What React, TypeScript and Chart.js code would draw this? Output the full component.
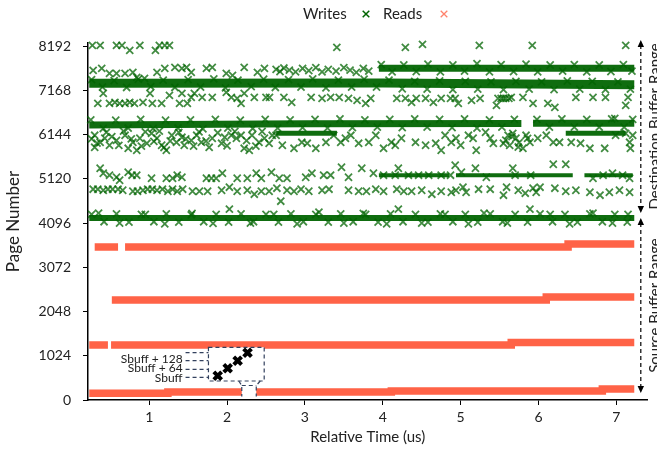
import React, { useEffect, useRef } from 'react';
import { Chart, registerables } from 'chart.js';

Chart.register(...registerables);

const FONT = 'Lato, "Noto Sans", sans-serif';
const TEXT = '#222222';
const RED = 'rgb(255,99,71)';
const GREEN = 'rgb(0,100,0)';
const GREEN_SOFT = 'rgba(0,100,0,0.74)';
const GREEN_BAND = 'rgba(0,100,0,0.94)';

type P = [number, number | null];

const xTickValues = [1, 2, 3, 4, 5, 6, 7];
const yTickValues = [0, 1024, 2048, 3072, 4096, 5120, 6144, 7168, 8192];

// ---- Reads (source buffer) : four continuous bands, x = time(us), y = page
const readsBand3500: P[] = [[0.30, 3544], [0.60, 3544], [0.62, null], [0.69, 3544], [6.38, 3614], [7.23, 3614]];
const readsBand2300: P[] = [[0.52, 2316], [6.10, 2386], [7.23, 2386]];
const readsBand1300: P[] = [[0.23, 1274], [0.47, 1274], [0.49, null], [0.51, 1274], [5.65, 1332], [7.23, 1332]];
const readsBand200: P[] = [[0.23, 155], [1.24, 185], [4.11, 208], [6.82, 255], [7.23, 255]];

// ---- Highlighted consecutive reads (Sbuff, Sbuff+64, Sbuff+128 ...)
const sbuffPoints: P[] = [[1.880, 563], [2.008, 734], [2.136, 910], [2.263, 1096]];

// ---- Writes (destination buffer): dense bands
const writesBand7680: P[] = [[3.95, 7683], [7.23, 7683]];
const writesBand7300: P[] = [[0.23, 7335], [4.0, 7345], [7.23, 7300]];
const writesBand6400: P[] = [[0.23, 6370], [3.0, 6400], [5.78, 6405], [5.79, null], [5.93, 6410], [7.23, 6410]];
const writesBand6180: P[] = [[2.63, 6178], [3.41, 6178], [3.42, null], [6.35, 6178], [7.12, 6178]];
const writesBand5200: P[] = [[3.95, 5207], [4.85, 5207], [4.86, null], [4.94, 5207], [6.44, 5207], [6.45, null], [6.59, 5207], [7.21, 5207]];
const writesBand4200: P[] = [[0.23, 4216], [7.23, 4216]];

// ---- Writes: scattered points
const writesTopRow: P[] = [[0.27, 8215], [0.37, 8215], [0.58, 8215], [0.65, 8215], [0.75, 8099], [0.88, 8215], [1.08, 8099], [1.13, 8215], [1.20, 8215], [1.26, 8215], [3.41, 8168], [4.29, 8168], [4.51, 8238], [5.24, 8215], [5.92, 8215], [7.12, 8215]];
const writesUpper7600: P[] = [[0.28, 7636], [0.39, 7683], [0.49, 7567], [0.58, 7567], [0.69, 7567], [0.79, 7590], [0.84, 7474], [0.94, 7451], [1.10, 7590], [1.20, 7683], [1.33, 7706], [1.42, 7683], [1.48, 7706], [1.54, 7590], [1.735, 7683], [1.81, 7706], [1.99, 7567], [2.07, 7521], [2.22, 7706], [2.39, 7590], [2.48, 7683], [2.63, 7660], [2.68, 7610], [2.73, 7690], [2.80, 7640], [2.88, 7600], [2.97, 7680], [3.05, 7630], [3.14, 7700], [3.22, 7600], [3.30, 7660], [3.40, 7620], [3.50, 7700], [3.58, 7640], [3.66, 7590], [3.75, 7680], [3.82, 7620]];
const writesDense7680: P[] = [[3.98, 7770], [4.12, 7600], [4.27, 7760], [4.43, 7610], [4.58, 7780], [4.74, 7600], [4.90, 7760], [5.05, 7620], [5.21, 7790], [5.37, 7600], [5.52, 7770], [5.68, 7610], [5.84, 7780], [5.99, 7600], [6.15, 7760], [6.31, 7620], [6.46, 7770], [6.62, 7600], [6.78, 7760], [6.93, 7610], [7.09, 7770], [7.20, 7620]];
const writesDense7300: P[] = [[0.26, 7420], [0.40, 7250], [0.55, 7400], [0.71, 7240], [0.86, 7430], [1.02, 7260], [1.18, 7410], [1.33, 7240], [1.50, 7420], [1.66, 7250], [1.83, 7440], [1.98, 7230], [2.14, 7410], [2.31, 7260], [2.47, 7430], [2.62, 7240], [2.79, 7420], [2.95, 7250], [3.10, 7440], [3.27, 7230], [3.43, 7410], [3.60, 7250], [3.76, 7430], [3.92, 7250], [4.08, 7410], [4.25, 7210], [4.41, 7380], [4.57, 7200], [4.73, 7390], [4.90, 7190], [5.06, 7380], [5.22, 7200], [5.39, 7370], [5.55, 7190], [5.71, 7380], [5.88, 7200], [6.04, 7370], [6.20, 7190], [6.37, 7390], [6.53, 7200], [6.69, 7380], [6.86, 7190], [7.02, 7370], [7.18, 7200]];
const writesBelow7168: P[] = [[0.34, 6873], [0.41, 7104], [0.49, 6873], [0.56, 6896], [0.62, 6873], [0.69, 6873], [0.75, 6896], [0.81, 6873], [0.92, 6896], [1.01, 7104], [1.04, 6873], [1.16, 6873], [1.26, 7058], [1.39, 6873], [1.42, 7104], [1.49, 6873], [1.54, 7011], [1.58, 7104], [1.68, 7011], [1.81, 7011], [1.99, 7127], [2.055, 7011], [2.13, 6988], [2.18, 6873], [2.22, 7104], [2.35, 7011], [2.50, 7011], [2.545, 7011], [2.73, 7011], [2.83, 6896], [3.08, 7011], [3.22, 6988], [3.33, 7011], [3.44, 7011], [3.56, 6988], [3.67, 6942], [3.78, 6873], [3.845, 6988], [4.18, 6988], [4.29, 6988], [4.37, 6896], [4.43, 6988], [4.55, 6988], [4.65, 6896], [4.75, 6988], [4.87, 6988], [4.93, 6988], [4.97, 6873], [5.14, 6942], [5.25, 6988], [5.46, 6826], [5.48, 6988], [5.52, 6988], [5.55, 6988], [5.58, 6988], [5.62, 6988], [5.65, 7011], [5.80, 7011], [5.93, 6873], [6.12, 6873], [6.21, 6780], [6.48, 7011], [6.70, 7011], [6.86, 7011], [7.12, 6826], [7.15, 7011]];
const writesDense6400: P[] = [[0.25, 6490], [0.41, 6290], [0.57, 6480], [0.73, 6300], [0.89, 6500], [1.05, 6290], [1.21, 6480], [1.37, 6300], [1.53, 6490], [1.69, 6280], [1.85, 6500], [2.01, 6300], [2.17, 6480], [2.33, 6290], [2.49, 6500], [2.65, 6300], [2.81, 6490], [2.97, 6310], [3.13, 6500], [3.29, 6300], [3.45, 6510], [3.61, 6310], [3.77, 6490], [3.93, 6320], [4.09, 6500], [4.25, 6310], [4.41, 6510], [4.57, 6320], [4.73, 6500], [4.89, 6310], [5.05, 6510], [5.21, 6300], [5.37, 6490], [5.53, 6320], [5.69, 6500], [5.98, 6500], [6.14, 6320], [6.30, 6510], [6.46, 6320], [6.62, 6500], [6.78, 6320], [6.94, 6510], [7.10, 6320], [7.21, 6500]];
const writesFill6000: P[] = [[0.26, 6050], [0.33, 5950], [0.45, 6200], [0.52, 6100], [0.61, 5900], [0.67, 6230], [0.77, 6050], [0.90, 5880], [0.95, 6210], [1.06, 5990], [1.13, 6230], [1.19, 5850], [1.27, 6000], [1.38, 6200], [1.47, 6050], [1.57, 5880], [1.64, 6210], [1.73, 6000], [1.88, 6190], [2.00, 5890], [2.10, 6220], [2.25, 6010], [2.37, 5880], [2.45, 6220]];
const writesNear6144: P[] = [[0.30, 6132], [0.37, 5970], [0.43, 6063], [0.49, 5901], [0.58, 6016], [0.30, 5854], [0.69, 6132], [0.73, 5831], [0.79, 5970], [0.84, 5785], [0.88, 6063], [0.97, 5947], [1.03, 6178], [1.10, 6063], [1.16, 5901], [1.22, 5785], [1.29, 6132], [1.35, 5970], [1.42, 6086], [1.45, 5901], [1.54, 6016], [1.61, 6132], [1.67, 5970], [1.77, 5854], [1.81, 6063], [1.93, 5947], [1.97, 6086], [2.055, 6132], [2.12, 6063], [2.18, 6132], [2.22, 5831], [2.285, 5785], [2.32, 6132], [2.41, 5970], [2.48, 6063], [2.54, 5947], [2.58, 6132], [2.63, 6132], [2.71, 5901], [2.86, 5831], [2.96, 5970], [3.03, 5947], [3.14, 5831], [3.27, 5970], [3.37, 6132], [3.46, 5970], [3.52, 6063], [3.59, 6132], [3.69, 5947], [3.82, 5970], [3.91, 6132], [4.01, 5831], [4.11, 5970], [4.16, 5901], [4.24, 6063], [4.42, 5970], [4.55, 5901], [4.68, 5947], [4.75, 5785], [4.80, 6132], [4.88, 5970], [4.94, 6063], [5.00, 5901], [5.10, 6132], [5.16, 6063], [5.20, 5785], [5.32, 6202], [5.38, 6063], [5.42, 5947], [5.55, 5947], [5.58, 6020], [5.61, 6132], [5.63, 5900], [5.66, 6100], [5.67, 6178], [5.71, 6063], [5.74, 5860], [5.75, 5960], [5.80, 5831], [5.84, 6132], [5.86, 6060], [5.89, 5970], [5.99, 6063], [6.10, 6132], [6.19, 5970], [6.27, 5970], [6.42, 5970], [6.54, 5947], [6.66, 5831], [6.85, 5831], [6.98, 6525], [6.99, 6132], [7.12, 6178], [7.17, 5970], [7.18, 5831], [7.21, 6132]];
const writesUpper5120: P[] = [[0.37, 5369], [0.41, 5253], [0.49, 5207], [0.58, 5160], [0.62, 5091], [0.73, 5276], [0.78, 5207], [0.84, 5207], [1.03, 5137], [1.22, 5137], [1.30, 5137], [1.36, 5207], [1.42, 5160], [1.735, 5137], [1.80, 5137], [1.86, 5137], [1.94, 5253], [2.13, 5137], [2.26, 5137], [2.375, 5253], [2.44, 5137], [2.57, 5276], [2.67, 5137], [2.77, 5137], [3.01, 5160], [3.09, 5253], [3.24, 5207], [3.33, 5207], [3.47, 5392], [3.56, 5160], [3.73, 5369], [3.88, 5253], [4.01, 5207], [4.16, 5207], [4.20, 5369], [4.33, 5207], [4.46, 5207], [4.59, 5207], [4.75, 5207], [4.87, 5207], [4.93, 5438], [5.01, 5276], [5.19, 5369], [5.33, 5160], [5.67, 5369], [5.70, 5207], [5.90, 5207], [6.19, 5461], [6.35, 5461], [6.70, 5137], [6.83, 5207], [6.95, 5253], [7.08, 5207], [7.17, 5137]];
const writesLower5120: P[] = [[0.28, 4883], [0.34, 4883], [0.41, 4859], [0.47, 4883], [0.53, 4883], [0.60, 4883], [0.66, 4859], [0.79, 4836], [0.85, 4836], [0.92, 4859], [0.98, 4883], [1.04, 4883], [1.10, 4859], [1.17, 4883], [1.24, 4836], [1.30, 4883], [1.36, 4836], [1.43, 4883], [1.556, 4836], [1.645, 4836], [1.75, 4836], [1.93, 4859], [2.03, 4929], [2.13, 4836], [2.26, 4859], [2.35, 4767], [2.44, 4836], [2.54, 4836], [2.64, 4906], [2.69, 4605], [2.77, 4859], [2.86, 4836], [2.95, 4883], [3.05, 4836], [3.22, 4859], [3.31, 4883], [3.56, 4859], [3.69, 4836], [3.79, 4836], [3.91, 4883], [4.01, 4836], [4.18, 4883], [4.27, 4836], [4.37, 4836], [4.50, 4859], [4.63, 4767], [4.75, 4836], [4.88, 4813], [4.94, 4859], [5.03, 4929], [5.07, 4813], [5.23, 4883], [5.38, 4883], [5.55, 4744], [5.59, 4929], [5.74, 4859], [5.83, 4790], [5.93, 4906], [5.97, 4813], [6.02, 4929], [6.21, 4906], [6.35, 4836], [6.48, 4859], [6.66, 4813], [6.79, 4744], [6.91, 4813], [7.04, 4859], [7.17, 4813]];
const writesDense4200: P[] = [[0.26, 4300], [0.42, 4130], [0.58, 4310], [0.74, 4120], [0.90, 4300], [1.06, 4130], [1.22, 4310], [1.38, 4120], [1.54, 4290], [1.70, 4130], [1.86, 4300], [2.02, 4120], [2.18, 4310], [2.34, 4130], [2.50, 4300], [2.66, 4120], [2.82, 4310], [2.98, 4130], [3.14, 4300], [3.30, 4120], [3.46, 4310], [3.62, 4130], [3.78, 4300], [3.94, 4120], [4.10, 4310], [4.26, 4130], [4.42, 4300], [4.58, 4120], [4.74, 4310], [4.90, 4130], [5.06, 4300], [5.22, 4120], [5.38, 4310], [5.54, 4130], [5.70, 4300], [5.86, 4120], [6.02, 4310], [6.18, 4130], [6.34, 4300], [6.50, 4120], [6.66, 4310], [6.82, 4130], [6.98, 4300], [7.14, 4120]];
const writesNear4096: P[] = [[0.35, 4330], [0.62, 4100], [0.95, 4300], [1.20, 4080], [1.55, 4320], [1.82, 4090], [2.03, 4420], [2.30, 4100], [2.60, 4300], [2.90, 4080], [3.18, 4350], [3.50, 4100], [3.75, 4320], [4.05, 4080], [4.20, 4420], [4.50, 4100], [4.80, 4300], [5.10, 4080], [5.30, 4330], [5.60, 4100], [5.89, 4420], [6.15, 4300], [6.40, 4080], [6.70, 4330], [6.95, 4100], [7.15, 4300]];

// ---- annotation geometry (data units)
const insetBox = { x0: 1.761, x1: 2.477, y0: 440, y1: 1221 };
const insetSmall = { x0: 2.189, x1: 2.375, y0: 81, y1: 336 };
const leaderYs = [1096, 910, 711, 526];
const leaderX0 = 1.467;
const insetLabels: [string, number][] = [['Sbuff + 128', 943], ['Sbuff + 64', 730], ['Sbuff', 503]];
const insetLabelX = 1.429;
const rangeArrowX = 7.314;
const destRange = { top: 8340, bottom: 4332 };
const srcRange = { top: 4216, bottom: 162 };

const toXY = (arr: P[]) => arr.map(([x, y]) => ({ x, y }));

function drawCross(ctx: CanvasRenderingContext2D, x: number, y: number, r: number, color: string, w: number) {
  ctx.save();
  ctx.strokeStyle = color;
  ctx.lineWidth = w;
  ctx.beginPath();
  ctx.moveTo(x - r, y - r);
  ctx.lineTo(x + r, y + r);
  ctx.moveTo(x + r, y - r);
  ctx.lineTo(x - r, y + r);
  ctx.stroke();
  ctx.restore();
}

const decor = {
  id: 'decor',
  beforeDatasetDraw(chart: any, args: any) {
    if (chart.data.datasets[args.index].label !== 'Sbuff') return;
    const { ctx, scales } = chart;
    const px = (v: number) => scales.x.getPixelForValue(v);
    const py = (v: number) => scales.y.getPixelForValue(v);
    ctx.save();
    ctx.strokeStyle = '#33415e';
    ctx.lineWidth = 1.2;
    ctx.setLineDash([4, 3]);
    const L = px(insetBox.x0), R = px(insetBox.x1), T = py(insetBox.y1), B = py(insetBox.y0);
    ctx.fillStyle = '#ffffff';
    ctx.fillRect(L, T, R - L, B - T);
    ctx.strokeRect(L, T, R - L, B - T);
    const sL = px(insetSmall.x0), sR = px(insetSmall.x1), sT = py(insetSmall.y1), sB = py(insetSmall.y0);
    ctx.fillRect(sL, sT, sR - sL, sB - sT);
    ctx.beginPath();
    ctx.moveTo(sL - 3, B); ctx.lineTo(sL, sT); ctx.lineTo(sL, sB);
    ctx.moveTo(sR + 4, B); ctx.lineTo(sR, sT); ctx.lineTo(sR, sB);
    ctx.moveTo(sL, sT); ctx.lineTo(sR, sT);
    ctx.stroke();
    ctx.beginPath();
    for (const ly of leaderYs) {
      ctx.moveTo(px(leaderX0), py(ly));
      ctx.lineTo(L, py(ly));
    }
    ctx.stroke();
    ctx.setLineDash([]);
    ctx.fillStyle = TEXT;
    ctx.font = `12px ${FONT}`;
    ctx.textAlign = 'right';
    ctx.textBaseline = 'middle';
    for (const [t, v] of insetLabels) ctx.fillText(t, px(insetLabelX), py(v));
    ctx.restore();
  },
  afterDraw(chart: any) {
    const { ctx, scales } = chart;
    const px = (v: number) => scales.x.getPixelForValue(v);
    const py = (v: number) => scales.y.getPixelForValue(v);
    ctx.save();
    // legend
    ctx.font = `15px ${FONT}`;
    ctx.fillStyle = TEXT;
    ctx.textBaseline = 'middle';
    ctx.textAlign = 'left';
    ctx.fillText('Writes', 303, 14);
    drawCross(ctx, 366, 14, 3.3, GREEN, 1.5);
    ctx.fillText('Reads', 383, 14);
    drawCross(ctx, 444, 14, 3.3, 'rgba(255,99,71,0.8)', 1.3);

    // range arrows
    const ax = px(rangeArrowX);
    const arrow = (top: number, bottom: number) => {
      ctx.strokeStyle = '#000';
      ctx.lineWidth = 1.2;
      ctx.setLineDash([4, 3]);
      ctx.beginPath();
      ctx.moveTo(ax, top + 5);
      ctx.lineTo(ax, bottom - 5);
      ctx.stroke();
      ctx.setLineDash([]);
      ctx.fillStyle = '#000';
      ctx.beginPath();
      ctx.moveTo(ax, top); ctx.lineTo(ax - 3.2, top + 7); ctx.lineTo(ax + 3.2, top + 7); ctx.closePath();
      ctx.moveTo(ax, bottom); ctx.lineTo(ax - 3.2, bottom - 7); ctx.lineTo(ax + 3.2, bottom - 7); ctx.closePath();
      ctx.fill();
    };
    const dT = py(destRange.top), dB = py(destRange.bottom), sT = py(srcRange.top), sB = py(srcRange.bottom);
    arrow(dT, dB);
    arrow(sT, sB);
    ctx.fillStyle = TEXT;
    ctx.font = `15px ${FONT}`;
    ctx.textAlign = 'center';
    ctx.textBaseline = 'alphabetic';
    const vtext = (t: string, cy: number) => {
      ctx.save();
      ctx.translate(660, cy);
      ctx.rotate(-Math.PI / 2);
      ctx.fillText(t, 0, 0);
      ctx.restore();
    };
    vtext('Destination Buffer Range', (dT + dB) / 2);
    vtext('Source Buffer Range', (sT + sB) / 2);
    ctx.restore();
  },
};

export default function App() {
  const ref = useRef<HTMLCanvasElement | null>(null);
  useEffect(() => {
    if (!ref.current) return;
    const band = (label: string, arr: P[], color: string, width: number, stepped: any = false) => ({
      type: 'line' as const,
      label,
      data: toXY(arr),
      borderColor: color,
      backgroundColor: color,
      borderWidth: width,
      borderCapStyle: 'butt' as const,
      pointRadius: 0,
      showLine: true,
      spanGaps: false,
      stepped,
      fill: false,
    });
    const pts = (label: string, arr: P[], color: string, r = 5, w = 1.8) => ({
      type: 'scatter' as const,
      label,
      data: toXY(arr),
      pointStyle: 'crossRot' as const,
      pointRadius: r,
      pointBorderWidth: w,
      borderColor: color,
      backgroundColor: color,
      clip: 8,
    });
    const chart = new Chart(ref.current, {
      type: 'scatter',
      data: {
        datasets: [
          pts('Sbuff', sbuffPoints, '#000000', 5.5, 4) as any,
          band('Reads 3500', readsBand3500, RED, 7.5, 'before'),
          band('Reads 2300', readsBand2300, RED, 7.5, 'before'),
          band('Reads 1300', readsBand1300, RED, 7.5, 'before'),
          band('Reads 200', readsBand200, RED, 7.5, 'before'),
          pts('Writes top', writesTopRow, GREEN_SOFT),
          pts('Writes 7600', writesUpper7600, GREEN_SOFT),
          pts('Writes dense 7680', writesDense7680, GREEN_SOFT),
          pts('Writes dense 7300', writesDense7300, GREEN_SOFT),
          pts('Writes 6900', writesBelow7168, GREEN_SOFT),
          pts('Writes dense 6400', writesDense6400, GREEN_SOFT),
          pts('Writes fill 6000', writesFill6000, GREEN_SOFT),
          pts('Writes 6000', writesNear6144, GREEN_SOFT),
          pts('Writes 5200', writesUpper5120, GREEN_SOFT),
          pts('Writes 4850', writesLower5120, GREEN_SOFT),
          pts('Writes dense 4200', writesDense4200, GREEN_SOFT),
          pts('Writes 4200', writesNear4096, GREEN_SOFT),
          band('W band 7680', writesBand7680, GREEN_BAND, 7),
          band('W band 7300', writesBand7300, GREEN_BAND, 9),
          band('W band 6400', writesBand6400, GREEN_BAND, 7),
          band('W band 6180', writesBand6180, GREEN_BAND, 5),
          band('W band 5200', writesBand5200, GREEN_BAND, 4),
          band('W band 4200', writesBand4200, GREEN_BAND, 6),
        ],
      },
      options: {
        animation: false,
        responsive: true,
        maintainAspectRatio: false,
        events: [],
        layout: { padding: { top: 43, right: 7, left: 0, bottom: 0 } },
        plugins: { legend: { display: false }, tooltip: { enabled: false } },
        scales: {
          x: {
            type: 'linear',
            min: 0.214,
            max: 7.4,
            afterBuildTicks: (s: any) => { s.ticks = xTickValues.map((v) => ({ value: v })); },
            afterFit: (s: any) => { s.height = 51; },
            grid: { drawOnChartArea: false, drawTicks: true, tickLength: 5, color: '#000' },
            border: { display: true, color: '#000', width: 1.5 },
            ticks: { font: { family: FONT, size: 14 }, color: TEXT, padding: 4, maxRotation: 0, callback: (v: any) => String(v) },
            title: { display: true, text: 'Relative Time (us)', font: { family: FONT, size: 15 }, color: TEXT, padding: { top: 0, bottom: 5 } },
          },
          y: {
            type: 'linear',
            min: 0,
            max: 8270,
            afterBuildTicks: (s: any) => { s.ticks = yTickValues.map((v) => ({ value: v })); },
            afterFit: (s: any) => { s.width = 88; },
            grid: { drawOnChartArea: false, drawTicks: true, tickLength: 5, color: '#000' },
            border: { display: true, color: '#000', width: 1.5 },
            ticks: { font: { family: FONT, size: 14 }, color: TEXT, padding: 12, callback: (v: any) => String(v) },
            title: { display: true, text: 'Page Number', font: { family: FONT, size: 17 }, color: TEXT, padding: { top: 3, bottom: 0 } },
          },
        },
      },
      plugins: [decor as any],
    });
    return () => chart.destroy();
  }, []);
  return (
    <div style={{ position: 'fixed', left: 0, top: 0, width: 657, height: 451, background: '#fff' }}>
      <canvas ref={ref} />
    </div>
  );
}
